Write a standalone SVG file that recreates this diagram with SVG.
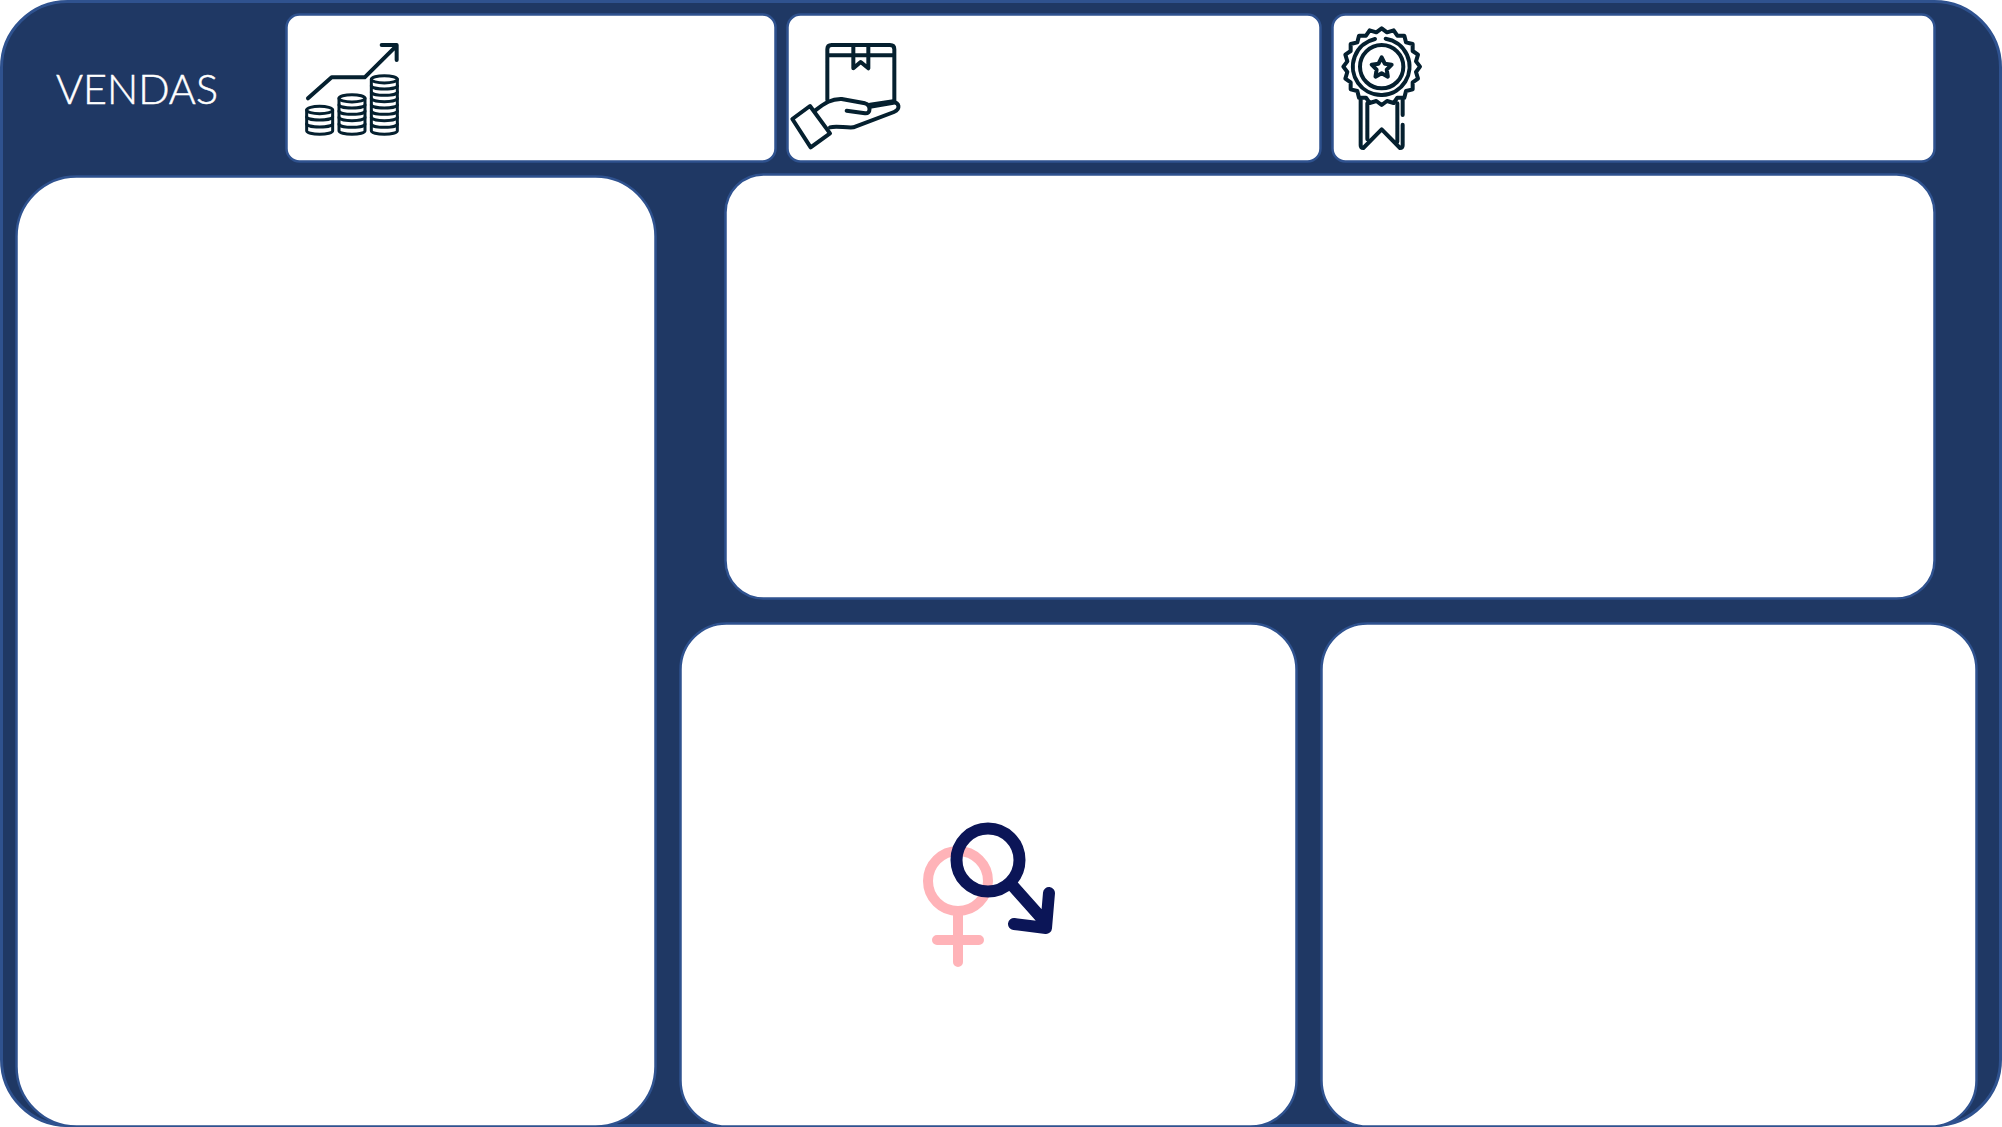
<svg xmlns="http://www.w3.org/2000/svg" xmlns:xlink="http://www.w3.org/1999/xlink" width="2002" height="1127" viewBox="0 0 2002 1127">
<style>
.bg{fill:#1f3864;stroke:#2f528f;stroke-width:3}
.card{fill:#fff;stroke:#2f528f;stroke-width:2.5}
.ic{fill:none;stroke:#05202f;stroke-width:12;stroke-linecap:round;stroke-linejoin:round}
.coin{stroke-width:9}
.title{font-family:"Lato","Liberation Sans",sans-serif;font-weight:300;font-size:42px;fill:#fff;stroke:#fff;stroke-width:.5}
.f{fill:none;stroke:#ffb3b8;stroke-width:10;stroke-linecap:round}
.m{fill:none;stroke:#0b1557;stroke-width:12;stroke-linecap:round;stroke-linejoin:round}
</style>
<defs>
<path id="b" d="M-39,0a39 10 0 0 0 78 0"/>
</defs>
<g id="background"><rect class="bg" x="1.5" y="1.5" width="1999" height="1124" rx="66"/></g>
<g id="title"><text class="title" x="56" y="104" textLength="162" lengthAdjust="spacingAndGlyphs">VENDAS</text></g>
<g id="card-revenue">
<rect class="card" x="286.5" y="14.5" width="489" height="147" rx="13"/>
<g class="ic" transform="scale(.33333)">
<path d="M924,295L995,232H1094L1190,137M1145,135H1190V180"/>
<g class="coin">
<g transform="translate(959,0)"><ellipse cx="0" cy="330" rx="39" ry="11"/><path d="M-39,330V392a39 11 0 0 0 78 0V330"/><use href="#b" y="350"/><use href="#b" y="371"/></g>
<g transform="translate(1056,0)"><ellipse cx="0" cy="295" rx="39" ry="11"/><path d="M-39,295V392a39 11 0 0 0 78 0V295"/><use href="#b" y="314"/><use href="#b" y="333"/><use href="#b" y="352"/><use href="#b" y="372"/></g>
<g transform="translate(1153,0)"><ellipse cx="0" cy="238" rx="39" ry="11"/><path d="M-39,238V392a39 11 0 0 0 78 0V238"/><use href="#b" y="257"/><use href="#b" y="276"/><use href="#b" y="295"/><use href="#b" y="314"/><use href="#b" y="333"/><use href="#b" y="352"/><use href="#b" y="372"/></g>
</g>
</g>
</g>
<g id="card-products">
<rect class="card" x="787.5" y="14.5" width="533" height="147" rx="13"/>
<g class="ic" transform="translate(770,0) scale(.33333)">
<path d="M172,300V148q0-13 13-13H360q13 0 13 13V303M172,166H373M250,136V205L272,186L295,205V136"/>
<path d="M67,357L120,318L180,400L122,442Z"/>
<path d="M135,332C165,308 185,296 215,297L285,310C303,315 303,342 285,340L230,332"/>
<path d="M180,382C200,376 225,384 250,382L372,336C392,328 388,306 370,308L300,320L300,314L370,304"/>
</g>
</g>
<g id="card-quality">
<rect class="card" x="1332.5" y="14.5" width="602" height="147" rx="13"/>
<g class="ic" transform="translate(1320,0) scale(.33333)">
<path transform="translate(185,200)" d="M115,0 103,16 109,36 93,47 93,68 73,73 68,93 47,93 36,109 16,103 0,115 -16,103 -36,109 -47,93 -68,93 -73,73 -93,68 -93,47 -109,36 -103,16 -115,0 -103,-16 -109,-36 -93,-47 -93,-68 -73,-73 -68,-93 -47,-93 -36,-109 -16,-103 0,-115 16,-103 36,-109 47,-93 68,-93 73,-73 93,-68 93,-47 109,-36 103,-16Z"/>
<path d="M197,116A85 85 0 1 1 165,117"/>
<circle cx="185" cy="200" r="65"/>
<path transform="translate(185,204)" d="M0,-32 9.4,-12.9 30,-10 15.2,4.9 18.5,26 0,16 -18.5,26 -15.2,4.9 -30,-10 -9.4,-12.9Z"/>
<path d="M122,300V436q0 8 8 8L185,388L240,444q8 0 8-8V374M248,345V300M142,310V418M232,310V425"/>
</g>
</g>
<g id="panel-left"><rect class="card" x="16.5" y="176.5" width="639" height="950" rx="60"/></g>
<g id="panel-top-right"><rect class="card" x="725.5" y="174.5" width="1209" height="424" rx="38"/></g>
<g id="panel-gender">
<rect class="card" x="680.5" y="623.5" width="616" height="503" rx="46"/>
<g id="gender-icon">
<g class="f"><circle cx="958" cy="881" r="30"/><path d="M958,915V962M937,940H979"/></g>
<g class="m"><circle cx="988" cy="860" r="31.500"/><path d="M1012,885L1045,922M1049,893L1046,928L1014,924"/></g>
</g>
</g>
<g id="panel-bottom-right"><rect class="card" x="1321.500" y="623.5" width="655" height="503" rx="46"/></g>
</svg>
